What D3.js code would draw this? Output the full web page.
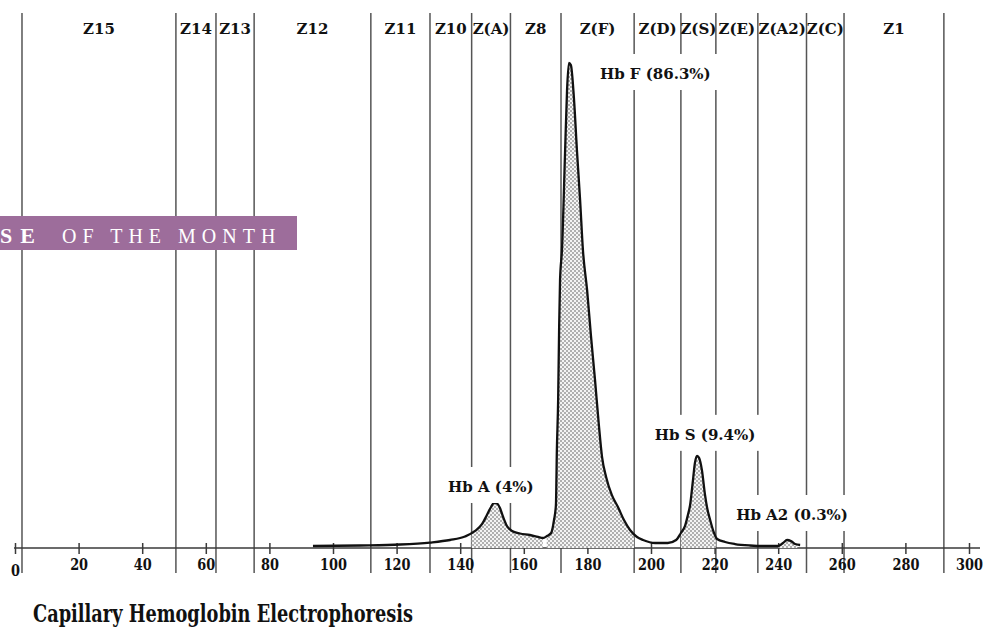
<!DOCTYPE html>
<html>
<head>
<meta charset="utf-8">
<script src="https://cdn.jsdelivr.net/npm/d3@7"></script>
<style>
  html, body { margin: 0; padding: 0; background: #ffffff; }
  svg { display: block; }
</style>
</head>
<body>
<svg id="chart" width="984" height="637"></svg>
<script>
// ---------- DATA ----------
const zoneBounds = [2.2, 50.6, 63.2, 75.2, 111.9, 130.5, 143.6, 155.8, 171.7, 194.7, 209.4, 220.4, 233.6, 248.9, 260.7, 292.1];
const zoneLabels = ["Z15", "Z14", "Z13", "Z12", "Z11", "Z10", "Z(A)", "Z8", "Z(F)", "Z(D)", "Z(S)", "Z(E)", "Z(A2)", "Z(C)", "Z1"];
const tickValues = [0, 20, 40, 60, 80, 100, 120, 140, 160, 180, 200, 220, 240, 260, 280, 300];

const traceX = [93.7, 108.5, 121.1, 130.5, 136.8, 141.5, 144.7, 146.9, 148.4, 149.7, 150.6, 151.6, 152.5, 153.5, 154.7, 156.3, 158.8, 161.9, 164.5, 166.0, 167.3, 168.6, 169.5, 170.1, 170.4, 170.8, 171.1, 171.4, 172.0, 173.0, 173.6, 174.2, 174.8, 175.8, 176.7, 177.7, 178.6, 179.9, 181.1, 182.4, 183.6, 184.6, 185.9, 187.7, 189.6, 191.5, 193.4, 195.6, 197.5, 201.3, 205.3, 207.9, 209.4, 210.7, 211.6, 212.3, 213.2, 213.8, 214.5, 215.1, 216.0, 217.0, 217.6, 218.6, 219.5, 220.8, 223.3, 226.4, 231.1, 235.8, 239.9, 241.5, 242.8, 244.0, 245.3, 246.9];
const traceY = [0.41, 0.52, 0.72, 1.13, 1.65, 2.37, 3.51, 4.95, 6.80, 8.45, 9.28, 9.18, 8.25, 6.39, 4.54, 3.51, 2.99, 2.68, 2.27, 2.06, 2.47, 3.09, 5.77, 8.87, 20.2, 30.5, 44.9, 55.3, 61.4, 82.1, 94.4, 100, 99.6, 92.4, 82.1, 71.8, 61.4, 53.2, 43.9, 34.6, 25.4, 18.8, 14.6, 10.9, 8.45, 5.77, 3.71, 2.27, 1.65, 1.03, 1.03, 1.65, 3.09, 4.54, 6.80, 8.87, 14.0, 17.5, 19.0, 18.6, 16.1, 10.9, 8.45, 5.77, 3.71, 1.86, 1.24, 0.82, 0.52, 0.41, 0.41, 1.03, 1.65, 1.44, 0.82, 0.62];

const peakNames = ["Hb A (4%)", "Hb F (86.3%)", "Hb S (9.4%)", "Hb A2 (0.3%)"];
const peakPositions = [150.6, 174.2, 214.5, 242.8];
const peakValues = [9.28, 100, 19.0, 1.65];

const fillStarts = [143.6, 167.2, 209.4, 240.0];
const fillEnds = [166.0, 194.7, 220.4, 246.0];

// ---------- DRAW ----------
const svg = d3.select("#chart");
const FONT = "'DejaVu Serif', serif";

const x = d3.scaleLinear().domain([0, 300]).range([15, 969]);
const y = d3.scaleLinear().domain([0, 100]).range([548, 63]);

const defs = svg.append("defs");
const pat = defs.append("pattern")
  .attr("id", "stipple").attr("patternUnits", "userSpaceOnUse")
  .attr("width", 4).attr("height", 4);
pat.append("rect").attr("width", 4).attr("height", 4).attr("fill", "#f4f4f4");
pat.append("circle").attr("cx", 1).attr("cy", 1).attr("r", 0.75).attr("fill", "#4a4a4a");
pat.append("circle").attr("cx", 3).attr("cy", 3).attr("r", 0.75).attr("fill", "#4a4a4a");

// zone boundary lines
svg.append("g").selectAll("line").data(zoneBounds).join("line")
  .attr("x1", d => x(d)).attr("x2", d => x(d))
  .attr("y1", 13).attr("y2", 573)
  .attr("stroke", "#555").attr("stroke-width", 1.5);

// zone labels
const zones = zoneLabels.map((l, i) => ({ label: l, mid: (zoneBounds[i] + zoneBounds[i + 1]) / 2 }));
svg.append("g").selectAll("text").data(zones).join("text")
  .attr("x", d => x(d.mid)).attr("y", 34)
  .attr("text-anchor", "middle")
  .attr("font-family", FONT).attr("font-weight", "bold").attr("font-size", 15)
  .attr("fill", "#111")
  .text(d => d.label);

// axis
const axisY = 548;
const axisG = svg.append("g").attr("transform", `translate(0,${axisY})`);
axisG.call(d3.axisBottom(x).tickValues(tickValues).tickSize(0).tickFormat(""));
axisG.select(".domain").remove();
axisG.append("line").attr("x1", x(0) - 1).attr("x2", x(300) + 11)
  .attr("stroke", "#3a3a3a").attr("stroke-width", 1.3);
axisG.selectAll(".tick").append("line")
  .attr("y1", -5).attr("y2", 6).attr("stroke", "#3a3a3a").attr("stroke-width", 1.5);
axisG.selectAll(".tick").append("text")
  .attr("x", 0)
  .attr("y", d => d === 0 ? 28 : 22)
  .attr("transform", "scale(0.76,1)")
  .attr("text-anchor", "middle")
  .attr("font-family", FONT)
  .attr("font-weight", "bold").attr("font-size", 17)
  .attr("fill", "#111")
  .text(d => d);

// trace fill
const pts = traceX.map((v, i) => [v, traceY[i]]);
const area = d3.area().x(d => x(d[0])).y0(y(0)).y1(d => y(d[1])).curve(d3.curveMonotoneX);
const line = d3.line().x(d => x(d[0])).y(d => y(d[1])).curve(d3.curveMonotoneX);
fillStarts.forEach((s, i) => {
  const cid = "clip" + i;
  defs.append("clipPath").attr("id", cid).append("rect")
    .attr("x", x(s)).attr("width", x(fillEnds[i]) - x(s))
    .attr("y", 0).attr("height", axisY);
  svg.append("path").datum(pts).attr("d", area)
    .attr("fill", "url(#stipple)").attr("clip-path", `url(#${cid})`);
});
svg.append("path").datum(pts).attr("d", line)
  .attr("fill", "none").attr("stroke", "#111").attr("stroke-width", 2.3)
  .attr("stroke-linejoin", "round");

// peak labels with white backgrounds
const labelLayout = [
  { anchor: "middle", dx: -3, dy: -11 },
  { anchor: "start", dx: 31, dy: 16 },
  { anchor: "middle", dx: 8, dy: -16 },
  { anchor: "middle", dx: 5, dy: -20 }
];
peakNames.forEach((name, i) => {
  const g = svg.append("g");
  const t = g.append("text")
    .attr("x", x(peakPositions[i]) + labelLayout[i].dx)
    .attr("y", y(peakValues[i]) + labelLayout[i].dy)
    .attr("text-anchor", labelLayout[i].anchor)
    .attr("font-family", FONT).attr("font-weight", "bold").attr("font-size", 15)
    .attr("fill", "#111")
    .text(name);
  const b = t.node().getBBox();
  g.insert("rect", "text")
    .attr("x", b.x - 11).attr("y", b.y - 11)
    .attr("width", b.width + 22).attr("height", b.height + 18)
    .attr("fill", "#fff");
});

// banner
svg.append("rect").attr("x", 0).attr("y", 216).attr("width", 297).attr("height", 34)
  .attr("fill", "#9d6d9b");
svg.append("text")
  .attr("x", 0).attr("y", 243)
  .attr("font-family", "'Liberation Serif', serif")
  .attr("font-weight", "bold").attr("font-size", 22)
  .attr("letter-spacing", 8)
  .attr("fill", "#fff")
  .text("SE");
svg.append("text")
  .attr("x", 62).attr("y", 243)
  .attr("font-family", "'Liberation Serif', serif")
  .attr("font-size", 20)
  .attr("letter-spacing", 6)
  .attr("fill", "#fff")
  .text("OF THE MONTH");

// title
svg.append("text")
  .attr("x", 33).attr("y", 622)
  .attr("font-family", FONT).attr("font-weight", "bold").attr("font-size", 24)
  .attr("textLength", 380).attr("lengthAdjust", "spacingAndGlyphs")
  .attr("fill", "#111")
  .text("Capillary Hemoglobin Electrophoresis");
</script>
</body>
</html>
